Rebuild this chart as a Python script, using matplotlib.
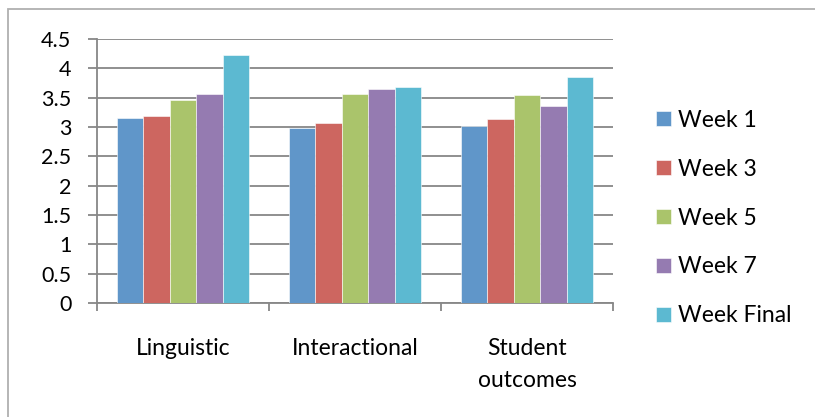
import matplotlib
matplotlib.use("Agg")
import matplotlib.pyplot as plt
import matplotlib.patches as mpatches
import numpy as np

categories = ["Linguistic", "Interactional", "Student\noutcomes"]
series_names = ["Week 1", "Week 3", "Week 5", "Week 7", "Week Final"]
week1 = [3.15, 2.98, 3.01]
week3 = [3.19, 3.06, 3.13]
week5 = [3.46, 3.56, 3.55]
week7 = [3.57, 3.64, 3.36]
week_final = [4.22, 3.68, 3.86]
yticks = [0, 0.5, 1, 1.5, 2, 2.5, 3, 3.5, 4, 4.5]
ytick_labels = ["0", "0.5", "1", "1.5", "2", "2.5", "3", "3.5", "4", "4.5"]

series = [week1, week3, week5, week7, week_final]
colors = ["#6096C9", "#CD6660", "#AAC46B", "#957BB1", "#5CB9D1"]

plt.rcParams['font.family'] = ['Lato', 'DejaVu Sans']

fig = plt.figure(figsize=(8.15, 4.17), dpi=100)
ax = fig.add_axes([97/815, 1-303/417, (613-97)/815, (303-39)/417])

# chart area border
fig.patches.append(mpatches.Rectangle((8/815, -0.05), 1.2, 1-9/417+0.05,
                                      transform=fig.transFigure, fill=False,
                                      edgecolor="#B0B0B0", linewidth=1.3))

n = len(series)
width = 1/6.5
x = np.arange(len(categories))
handles = []
for i, (vals, col, name) in enumerate(zip(series, colors, series_names)):
    offs = (i - (n-1)/2) * width
    b = ax.bar(x + offs, vals, width, color=col, label=name,
               edgecolor="white", linewidth=0.4, zorder=3)
    handles.append(b)

ax.set_xlim(-0.5, 2.5)
ax.set_ylim(0, 4.5)
ax.set_yticks(yticks)
ax.set_yticklabels(ytick_labels)
ax.yaxis.grid(True, color="#878787", linewidth=1.3, zorder=0)
ax.set_axisbelow(True)

ax.set_xticks([-0.5, 0.5, 1.5, 2.5])
ax.set_xticklabels([])
ax.set_xticks(x, minor=True)
ax.set_xticklabels(categories, minor=True, fontsize=16.5, linespacing=1.65)
ax.tick_params(axis='x', which='major', direction='out', length=6,
               color="#878787", width=1.3)
ax.tick_params(axis='x', which='minor', length=0, pad=25)
ax.tick_params(axis='y', direction='out', length=6.5, color="#878787",
               width=1.3, pad=12, labelsize=15.5)

for s in ["top", "right"]:
    ax.spines[s].set_visible(False)
for s in ["left", "bottom"]:
    ax.spines[s].set_color("#878787")
    ax.spines[s].set_linewidth(1.3)

fig.legend(handles=handles, labels=series_names, loc="center left",
           bbox_to_anchor=(647/815, 1-218/417), frameon=False,
           fontsize=16.5, handlelength=0.65, handleheight=0.65,
           handletextpad=0.3, labelspacing=1.22, borderaxespad=0)

fig.savefig("out.png", dpi=100)
